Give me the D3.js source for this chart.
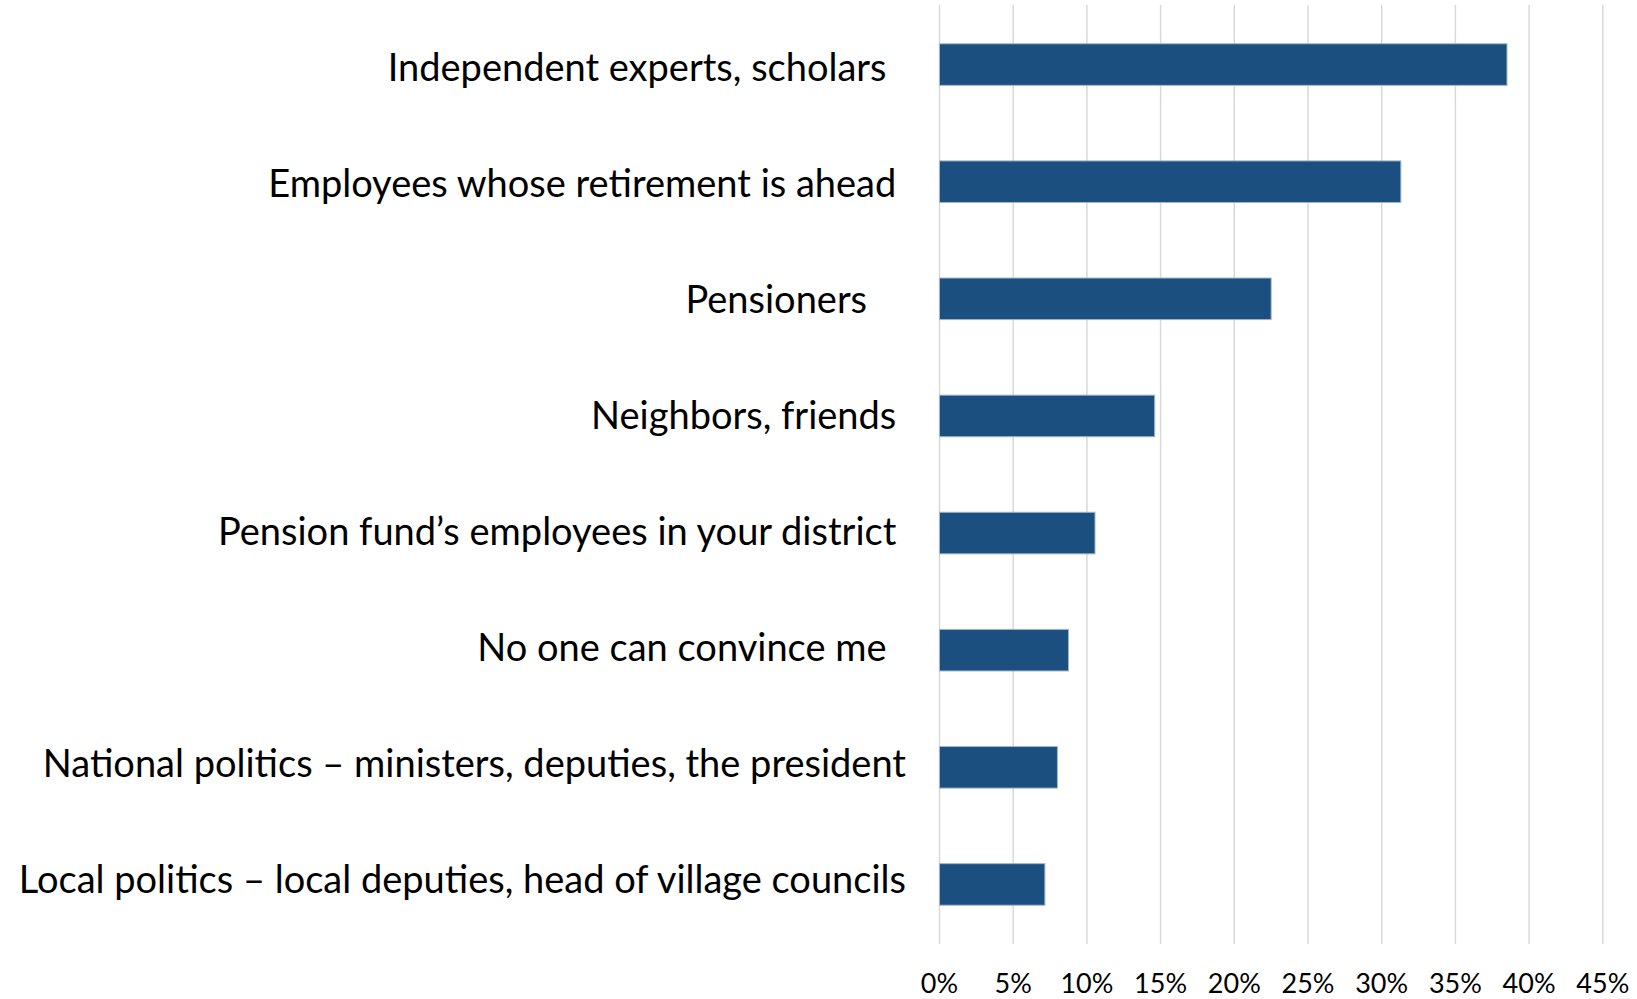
<!DOCTYPE html>
<meta charset="utf-8">
<style>
body { margin: 0; background: #fff; }
svg { display: block; font-family: Lato, sans-serif; }
.grid line { stroke: #d9d9d9; stroke-width: 1.5px; }
.bars rect { fill: #1b4f80; stroke: #a3b6ca; stroke-width: 1px; }
.labels text { font-size: 38px; fill: #000; white-space: pre; }
.ticks text { font-size: 27px; fill: #000; }
</style>
<body>
<svg width="1637" height="999"></svg>
<script src="https://d3js.org/d3.v7.min.js"></script>
<script>

// answers, top to bottom (trailing spaces as in the source labels)
var categories = [
  "Independent experts, scholars  ",
  "Employees whose retirement is ahead ",
  "Pensioners    ",
  "Neighbors, friends ",
  "Pension fund\u2019s employees in your district ",
  "No one can convince me  ",
  "National politics \u2013 ministers, deputies, the president",
  "Local politics \u2013 local deputies, head of village councils"
];
var shares = [0.385, 0.313, 0.225, 0.146, 0.1055, 0.0875, 0.080, 0.0715];
var tickValues = [0, 0.05, 0.10, 0.15, 0.20, 0.25, 0.30, 0.35, 0.40, 0.45];

(function() {
  var svg = d3.select("svg");

  var x = d3.scaleLinear()
      .domain([0, 0.45])
      .range([939.5, 1602.8]);

  var y = d3.scaleBand()
      .domain(categories)
      .range([6, 943])
      .paddingInner(0.645)
      .paddingOuter(0.3225);

  // category labels sit on a slightly tighter pitch than the bars
  var labelY = d3.scalePoint()
      .domain(categories)
      .range([65, 877]);

  svg.append("g")
      .attr("class", "grid")
    .selectAll("line")
    .data(tickValues)
    .enter().append("line")
      .attr("x1", function(d) { return x(d); })
      .attr("x2", function(d) { return x(d); })
      .attr("y1", 5)
      .attr("y2", 944);

  svg.append("g")
      .attr("class", "bars")
    .selectAll("rect")
    .data(shares)
    .enter().append("rect")
      .attr("x", x(0))
      .attr("y", function(d, i) { return y(categories[i]); })
      .attr("width", function(d) { return x(d) - x(0); })
      .attr("height", y.bandwidth());

  svg.append("g")
      .attr("class", "labels")
    .selectAll("text")
    .data(categories)
    .enter().append("text")
      .attr("x", 906)
      .attr("y", function(d) { return labelY(d); })
      .attr("dy", "0.41em")
      .attr("text-anchor", "end")
      .text(function(d) { return d; });

  svg.append("g")
      .attr("class", "ticks")
    .selectAll("text")
    .data(tickValues)
    .enter().append("text")
      .attr("x", function(d) { return x(d); })
      .attr("y", 993)
      .attr("text-anchor", "middle")
      .text(d3.format(".0%"));
})();

</script>
</body>
